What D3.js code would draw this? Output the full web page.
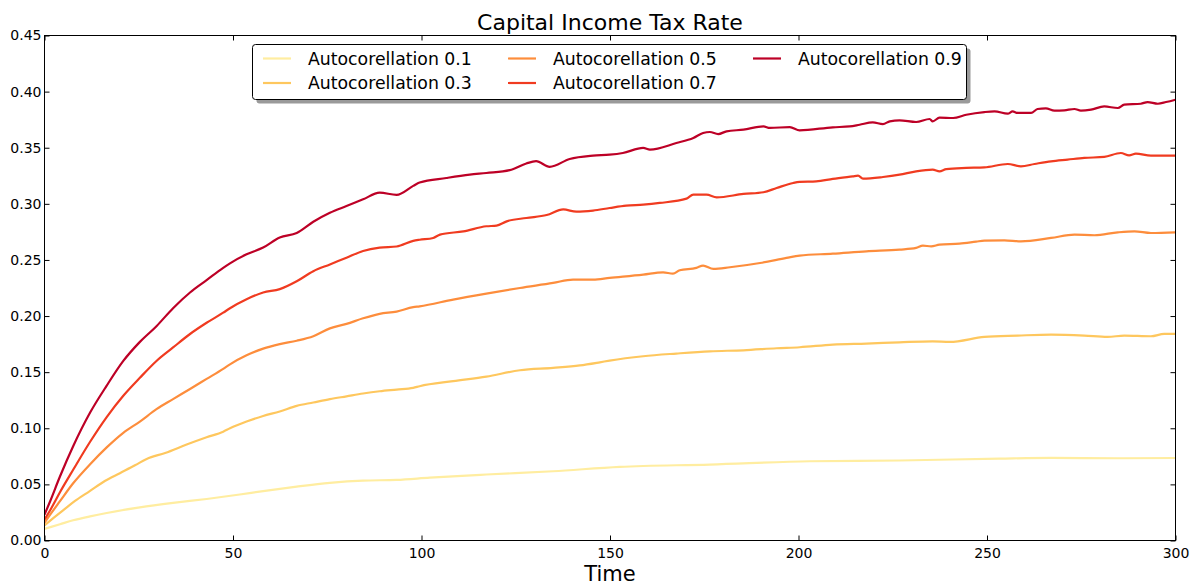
<!DOCTYPE html>
<html>
<head>
<meta charset="utf-8">
<script src="https://cdn.jsdelivr.net/npm/d3@7/dist/d3.min.js"></script>
<style>
  html, body { margin: 0; padding: 0; background: #fff; }
  svg { display: block; font-family: "DejaVu Sans", sans-serif; }
</style>
</head>
<body>
<svg id="chart" width="1191" height="585"></svg>
<script>
// Simulated capital income tax rate paths for different shock autocorrelations.
// Each series is a list of [time, rate] pairs.
const labels = ["Autocorellation 0.1", "Autocorellation 0.3", "Autocorellation 0.5", "Autocorellation 0.7", "Autocorellation 0.9"];
const colors = ["#ffeda0", "#fec75e", "#fd8d3c", "#f03b20", "#bd0026"];

const rho01 = [[0,0.0104],[4.1,0.0145],[7.6,0.018],[12.1,0.0215],[16.5,0.0245],[25.3,0.0295],[34.1,0.0335],[43,0.037],[51.8,0.041],[58,0.044],[66.9,0.048],[75.7,0.0514],[84.5,0.0534],[93.4,0.054],[102.2,0.056],[117.2,0.0588],[134.9,0.0617],[152.6,0.0656],[176.5,0.0677],[203,0.0706],[226.8,0.0713],[253.3,0.073],[267,0.0736],[284.7,0.0733],[300,0.0735]];

const rho03 = [[0,0.0134],[2,0.019],[5,0.027],[8,0.035],[12,0.044],[16,0.053],[20,0.060],[24,0.067],[27.1,0.0727],[32,0.078],[37.7,0.0855],[43,0.092],[47.4,0.097],[49.2,0.100],[53.6,0.106],[58,0.111],[62.4,0.115],[66.9,0.120],[71.3,0.123],[75.7,0.126],[80.1,0.1285],[84.5,0.131],[88.9,0.133],[93.4,0.1345],[97.8,0.136],[99.5,0.1375],[108.4,0.142],[117.2,0.146],[126.1,0.1517],[134.9,0.1538],[142,0.156],[147.3,0.1588],[149.9,0.1603],[158.8,0.1642],[167.6,0.1666],[176.5,0.1686],[185.4,0.1695],[194.2,0.1713],[200.3,0.1722],[209.1,0.1746],[218,0.1755],[226.8,0.1766],[235.6,0.1775],[240.1,0.177],[249.3,0.1814],[258.1,0.1826],[267,0.1835],[275.8,0.1826],[282,0.1814],[286.4,0.1826],[293.5,0.182],[297,0.1841],[300,0.1841]];

const rho05 = [[0,0.0158],[1.5,0.023],[4.1,0.035],[7.6,0.051],[12.1,0.068],[16.5,0.083],[20.9,0.096],[25.3,0.106],[29.7,0.117],[34.1,0.126],[38.6,0.135],[43,0.144],[47.4,0.153],[49.2,0.157],[53.6,0.165],[58,0.171],[62.4,0.175],[66.9,0.178],[71.3,0.182],[75.7,0.189],[80.1,0.193],[84.5,0.198],[88.9,0.202],[93.4,0.204],[97.8,0.208],[99.5,0.2087],[108.4,0.2147],[117.2,0.220],[126.1,0.225],[134.9,0.2295],[140.2,0.2325],[145.5,0.2325],[149.9,0.234],[158.8,0.2369],[164.1,0.239],[166.7,0.2378],[168.5,0.2408],[172.9,0.2429],[174.7,0.245],[177.4,0.242],[181.8,0.2435],[189.8,0.2473],[196.8,0.2518],[200.3,0.2539],[209.1,0.2556],[218,0.2577],[226.8,0.2592],[231.2,0.2607],[233,0.2628],[235.2,0.2621],[237.4,0.2636],[242.7,0.2645],[247.1,0.2663],[249.3,0.2672],[254.6,0.2675],[259,0.2666],[267,0.2696],[273.2,0.2726],[278.5,0.272],[284.7,0.2746],[289.1,0.2755],[293.5,0.274],[300,0.2746]];

const rho07 = [[0,0.0187],[1.5,0.027],[4.1,0.043],[7.6,0.063],[12.1,0.088],[16.5,0.110],[20.9,0.129],[25.3,0.145],[29.7,0.160],[34.1,0.172],[38.6,0.184],[43,0.194],[47.4,0.203],[49.2,0.207],[53.6,0.215],[58,0.221],[62.4,0.224],[66.9,0.231],[71.3,0.240],[75.7,0.246],[80.1,0.252],[84.5,0.258],[88.9,0.261],[93.4,0.262],[97.8,0.267],[99.5,0.268],[103.1,0.2696],[104.9,0.2726],[111.1,0.2755],[117.2,0.280],[119.9,0.2806],[122.6,0.2844],[127.8,0.2874],[133.2,0.290],[137.6,0.295],[141.1,0.293],[145.5,0.294],[149.9,0.2963],[154.3,0.2984],[158.8,0.2993],[163.2,0.3008],[170.3,0.3046],[172.1,0.3082],[175.6,0.3082],[178.3,0.3058],[185.4,0.3088],[190.7,0.3103],[194.2,0.3141],[198.6,0.3186],[200.3,0.3195],[204.7,0.320],[209.1,0.3222],[214.4,0.3245],[215.8,0.3251],[217.1,0.3224],[222.4,0.3239],[226.8,0.326],[231.2,0.329],[235.6,0.3305],[237.4,0.329],[239.2,0.331],[244.5,0.332],[249.3,0.3325],[255.5,0.3355],[259,0.3334],[262.6,0.3355],[267,0.3379],[271.4,0.3394],[275.8,0.3409],[281.1,0.3418],[285.5,0.3453],[287.7,0.3432],[289.5,0.3447],[293.5,0.3429],[300,0.3429]];

const rho09 = [[0,0.023],[1.5,0.035],[4.1,0.057],[7.6,0.084],[12.1,0.114],[16.5,0.138],[20.9,0.160],[25.3,0.177],[29.7,0.191],[34.1,0.207],[38.6,0.221],[43,0.232],[47.4,0.243],[49.2,0.247],[53.6,0.255],[58,0.261],[62.4,0.270],[66.9,0.274],[71.3,0.284],[75.7,0.292],[80.1,0.298],[84.5,0.304],[88.9,0.310],[93.4,0.308],[97.8,0.316],[99.5,0.319],[106.6,0.323],[112.8,0.326],[117.2,0.3275],[123.4,0.330],[127.8,0.336],[130.4,0.338],[134,0.333],[139.3,0.340],[145.5,0.343],[149.9,0.3438],[153.4,0.3453],[158.8,0.3498],[160.6,0.3483],[167.6,0.3542],[172.1,0.3587],[174.7,0.3631],[176.5,0.364],[178.7,0.3622],[180.9,0.3646],[185.4,0.3661],[190.7,0.369],[192.4,0.3676],[197.7,0.3684],[200.3,0.3655],[209.1,0.3682],[213.6,0.369],[216.2,0.3705],[219.7,0.3726],[222.4,0.3711],[224.2,0.3735],[226.8,0.3744],[231.2,0.3729],[234.8,0.3756],[235.6,0.3735],[237.4,0.3768],[241,0.3765],[244.5,0.3794],[249.3,0.3818],[252,0.3824],[255.5,0.3803],[256.8,0.3824],[258.1,0.381],[261.7,0.381],[263.4,0.3845],[265.6,0.3851],[267.9,0.383],[270.5,0.3833],[273.2,0.3845],[274.9,0.383],[277.6,0.3839],[281.1,0.3868],[284.7,0.3854],[286.4,0.3884],[290.8,0.3892],[292.6,0.3907],[295.3,0.3892],[297.5,0.3907],[300,0.3928]];

const seriesData = [rho01, rho03, rho05, rho07, rho09];
const xTicks = [0, 50, 100, 150, 200, 250, 300];
const yTicks = [0, 0.05, 0.10, 0.15, 0.20, 0.25, 0.30, 0.35, 0.40, 0.45];

(function drawChart() {
  const svg = d3.select("#chart");
  const pLeft = 44.5, pRight = 1175.5, pTop = 35.5, pBottom = 540.5;

  const x = d3.scaleLinear().domain([0, 300]).range([pLeft, pRight]);
  const y = d3.scaleLinear().domain([0, 0.45]).range([pBottom, pTop]);

  // Series lines
  const line = d3.line().x(d => x(d[0])).y(d => y(d[1])).curve(d3.curveMonotoneX);
  const plot = svg.append("g");
  plot.append("clipPath").attr("id", "clip")
    .append("rect").attr("x", pLeft).attr("y", pTop).attr("width", pRight - pLeft).attr("height", pBottom - pTop);
  seriesData.forEach((s, i) => {
    plot.append("path")
      .datum(s)
      .attr("clip-path", "url(#clip)")
      .attr("fill", "none")
      .attr("stroke", colors[i])
      .attr("stroke-width", 2.2)
      .attr("stroke-linejoin", "round")
      .attr("d", line);
  });

  // Axes with inward ticks on all four sides
  const tickLen = 5;
  const axStyle = g => {
    g.select(".domain").remove();
    g.selectAll(".tick line").attr("stroke", "#000").attr("stroke-width", 1);
    g.selectAll(".tick text").attr("fill", "#000").style("font-size", "14px").style("font-family", "DejaVu Sans");
  };
  svg.append("g").attr("transform", `translate(0,${pBottom})`)
    .call(d3.axisBottom(x).tickValues(xTicks).tickSize(-tickLen).tickPadding(8).tickFormat(d3.format("d")))
    .call(axStyle);
  svg.append("g").attr("transform", `translate(0,${pTop})`)
    .call(d3.axisTop(x).tickValues(xTicks).tickSize(-tickLen).tickFormat(""))
    .call(axStyle);
  svg.append("g").attr("transform", `translate(${pLeft},0)`)
    .call(d3.axisLeft(y).tickValues(yTicks).tickSize(-tickLen).tickPadding(3).tickFormat(d3.format(".2f")))
    .call(axStyle);
  svg.append("g").attr("transform", `translate(${pRight},0)`)
    .call(d3.axisRight(y).tickValues(yTicks).tickSize(-tickLen).tickFormat(""))
    .call(axStyle);

  // Frame
  svg.append("rect")
    .attr("x", pLeft).attr("y", pTop).attr("width", pRight - pLeft).attr("height", pBottom - pTop)
    .attr("fill", "none").attr("stroke", "#000").attr("stroke-width", 1);

  // Title and axis label
  svg.append("text").attr("x", (pLeft + pRight) / 2).attr("y", 29.5)
    .attr("text-anchor", "middle").style("font-size", "22px").text("Capital Income Tax Rate");
  svg.append("text").attr("x", (pLeft + pRight) / 2).attr("y", 581)
    .attr("text-anchor", "middle").style("font-size", "21px").text("Time");

  // Legend with drop shadow
  const lg = svg.append("g");
  const lx = 252.5, ly = 44.5, lw = 714, lh = 55;
  lg.append("rect").attr("x", lx + 4).attr("y", ly + 4).attr("width", lw).attr("height", lh)
    .attr("rx", 3).attr("fill", "#9a9a9a");
  lg.append("rect").attr("x", lx).attr("y", ly).attr("width", lw).attr("height", lh)
    .attr("rx", 3).attr("fill", "#fff").attr("stroke", "#000").attr("stroke-width", 1);
  const colX = [263, 508, 753];
  const rowY = [58.5, 83];
  labels.forEach((lab, i) => {
    const c = Math.floor(i / 2), r = i % 2;
    lg.append("line")
      .attr("x1", colX[c]).attr("x2", colX[c] + 28)
      .attr("y1", rowY[r]).attr("y2", rowY[r])
      .attr("stroke", colors[i]).attr("stroke-width", 2.2);
    lg.append("text")
      .attr("x", colX[c] + 45).attr("y", rowY[r] + 6.3)
      .style("font-size", "17.3px").text(lab);
  });
})();
</script>
</body>
</html>
